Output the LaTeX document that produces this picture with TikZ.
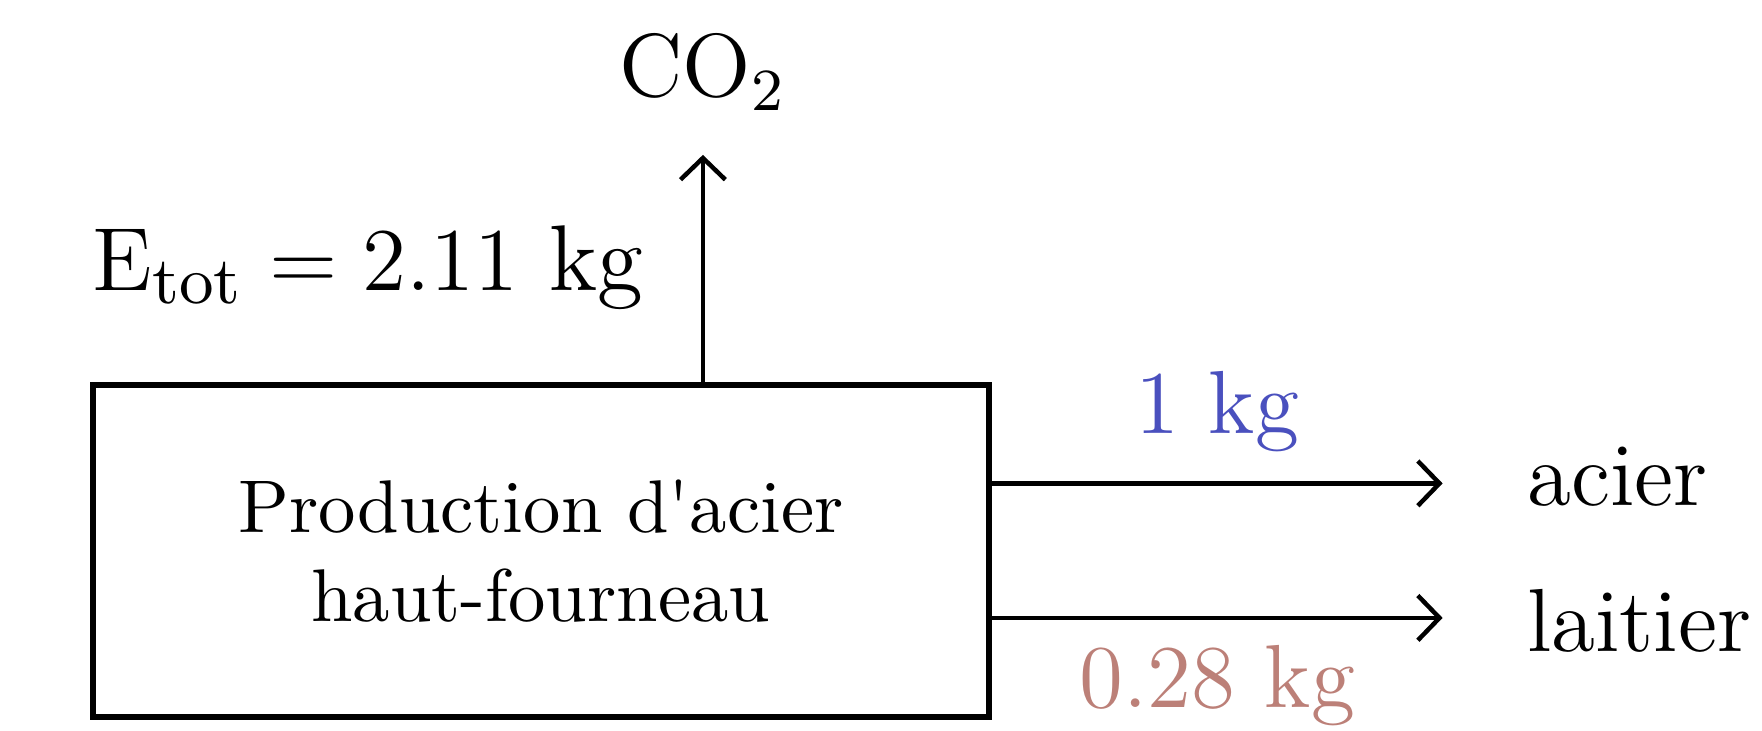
\documentclass[tikz,border=0pt]{standalone}
\usetikzlibrary{arrows.meta}
\definecolor{massblue}{RGB}{74,80,190}
\definecolor{massrose}{RGB}{188,128,120}
\begin{document}
\begin{tikzpicture}[>={Straight Barb[length=2.9pt,width=6pt]},semithick,
  lbl/.style={font=\large,inner sep=0pt}]
\useasboundingbox (0,0) rectangle (8.292,3.440);
\node[draw,thick,align=center,minimum width=4.218cm,minimum height=1.562cm] (four) at (2.545,0.847) {Production d\textquotesingle acier\\haut-fourneau};
\coordinate (co2end) at (3.308,2.711);
\coordinate (acierend) at (6.789,1.165);
\coordinate (laitierend) at (6.789,0.532);
\draw[->] (four.north -| co2end) -- (co2end);
\draw[->] (four.east |- acierend) -- node[lbl,text=massblue,anchor=base,yshift=6.7pt] (kgacier) {1 kg} (acierend);
\draw[->] (four.east |- laitierend) -- node[lbl,text=massrose,anchor=base,yshift=-12.05pt] (kglaitier) {0.28 kg} (laitierend);
\node[lbl,anchor=base] (co2) at (3.308,2.985) {CO$_2$};
\node[lbl,font=\fontsize{12.5}{15}\selectfont,anchor=base] (etot) at (1.732,2.075) {$\mathrm{E}_{\mathrm{tot}} = 2.11$ kg};
\node[lbl,anchor=base west] (acier) at (7.176,1.059) {acier};
\node[lbl,anchor=base west] (laitier) at (7.176,0.372) {laitier};
\end{tikzpicture}
\end{document}
